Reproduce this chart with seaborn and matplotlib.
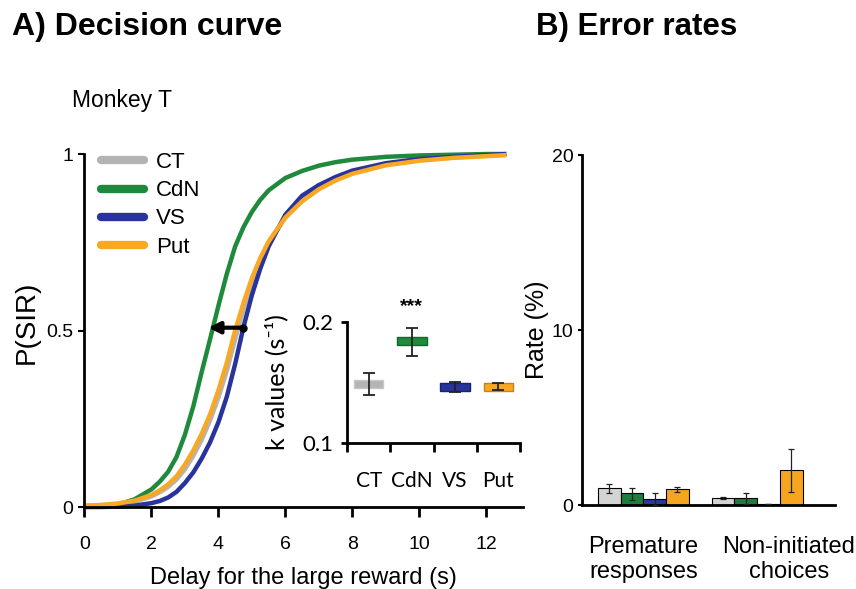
import numpy as np
import pandas as pd
import matplotlib
matplotlib.use("Agg")
import matplotlib.pyplot as plt
from matplotlib.lines import Line2D
import seaborn as sns

# ---- A) decision curves: P(SIR) against delay
delay = [0, 0.5, 1, 1.5, 2, 2.25, 2.5, 2.75, 3, 3.25, 3.5, 3.75, 4, 4.25,
         4.5, 4.75, 5, 5.25, 5.5, 6, 6.5, 7, 7.5, 8, 9, 10, 11, 12, 12.6]
p_ct = [0.003, 0.005, 0.008, 0.015, 0.03, 0.042, 0.057, 0.078, 0.107, 0.145,
        0.19, 0.245, 0.31, 0.385, 0.475, 0.56, 0.635, 0.70, 0.75, 0.82,
        0.868, 0.903, 0.928, 0.947, 0.97, 0.983, 0.99, 0.995, 0.998]
p_cdn = [0.0, 0.002, 0.007, 0.022, 0.05, 0.072, 0.10, 0.142, 0.205, 0.285,
         0.382, 0.475, 0.57, 0.66, 0.738, 0.793, 0.836, 0.87, 0.897, 0.932,
         0.952, 0.967, 0.977, 0.984, 0.992, 0.996, 0.998, 1.0, 1.0]
p_vs = [0.0, 0.0, 0.001, 0.004, 0.011, 0.017, 0.027, 0.043, 0.068, 0.098,
        0.137, 0.183, 0.24, 0.312, 0.405, 0.51, 0.60, 0.675, 0.738, 0.828,
        0.882, 0.912, 0.935, 0.953, 0.974, 0.986, 0.992, 0.997, 1.0]
p_put = [0.004, 0.006, 0.01, 0.018, 0.034, 0.047, 0.064, 0.087, 0.12, 0.16,
         0.207, 0.262, 0.33, 0.408, 0.50, 0.578, 0.648, 0.705, 0.752, 0.82,
         0.866, 0.90, 0.925, 0.944, 0.968, 0.981, 0.989, 0.994, 0.997]

groups = ["CT", "CdN", "VS", "Put"]
line_colors = {"CT": "#b4b4b4", "CdN": "#1f8a3c", "VS": "#28339b", "Put": "#f8a823"}
edge_colors = ["#c8c8c8", "#16662c", "#1b2370", "#c9821a"]

# inset: k values (s-1) with error bars
k_vals = [0.149, 0.184, 0.1465, 0.1463]
k_lo = [0.140, 0.172, 0.1424, 0.1436]
k_hi = [0.158, 0.195, 0.1504, 0.1493]

# arrow: shift of the CdN curve at P = 0.5
shift_from = 4.74
shift_to = 3.70
shift_p = 0.508

# ---- B) error rates (%)
error_types = ["Premature\nresponses", "Non-initiated\nchoices"]
premature = [0.99, 0.67, 0.36, 0.90]
premature_lo = [0.70, 0.29, 0.02, 0.72]
premature_hi = [1.20, 0.99, 0.70, 1.05]
noninit = [0.40, 0.38, 0.05, 2.0]
noninit_lo = [0.35, 0.05, 0.05, 0.76]
noninit_hi = [0.46, 0.70, 0.05, 3.2]
bar_colors = {"CT": "#d4d4d4", "CdN": "#1e7d3c", "VS": "#2b3a96", "Put": "#f6a61e"}

sns.set_style("ticks")
plt.rcParams["font.family"] = ["Liberation Sans", "DejaVu Sans"]
plt.rcParams.update({"axes.edgecolor": "black", "text.color": "black",
                     "axes.labelcolor": "black", "xtick.color": "black",
                     "ytick.color": "black"})

fig = plt.figure(figsize=(8.56, 5.89), dpi=100)
axA = fig.add_axes([0.0987, 0.1392, 0.5123, 0.5993])
ins = fig.add_axes([0.4054, 0.2474, 0.2021, 0.2065])
axB = fig.add_axes([0.6796, 0.1426, 0.2959, 0.5942])

# curves
curves = pd.concat([
    pd.DataFrame({"delay": delay, "p": p, "group": g})
    for g, p in zip(groups, [p_ct, p_cdn, p_vs, p_put])
])
sns.lineplot(data=curves, x="delay", y="p", hue="group", hue_order=groups,
             palette=line_colors, linewidth=3.2, legend=False, ax=axA)
for ln in axA.lines:
    ln.set_clip_on(False)
    ln.set_solid_capstyle("butt")

axA.annotate("", xy=(shift_to, shift_p), xytext=(shift_from, shift_p),
             arrowprops=dict(arrowstyle="-|>", lw=3, color="black",
                             mutation_scale=17, shrinkA=0, shrinkB=0))
axA.plot([shift_from], [shift_p], "o", color="black", ms=5)

handles = [Line2D([], [], color=line_colors[g], lw=6) for g in groups]
axA.legend(handles, groups, loc="upper left", bbox_to_anchor=(0.037, 1.005),
           frameon=False, fontsize=16, handlelength=1.95, handletextpad=0.55,
           labelspacing=0.32, borderpad=0, borderaxespad=0)

axA.set_xlim(0, 13.1)
axA.set_ylim(0, 1)
axA.set_xticks(range(0, 13, 2))
axA.set_yticks([0, 0.5, 1])
axA.set_yticklabels(["0", "0.5", "1"])
axA.tick_params(axis="x", length=7, width=2, pad=14, labelsize=14)
axA.tick_params(axis="y", length=4, width=1.5, pad=4, labelsize=14)
axA.set_xlabel("Delay for the large reward (s)", fontsize=17, labelpad=10)
axA.set_ylabel("P(SIR)", fontsize=20)
axA.yaxis.set_label_coords(-0.101, 0.524)
for s in axA.spines.values():
    s.set_linewidth(2)
sns.despine(ax=axA)

# inset with k values
ins.patch.set_alpha(0)
box = [(-1, -0.26), (1, -0.26), (1, 0.26), (-1, 0.26), (-1, -0.26)]
sns.scatterplot(x=groups, y=k_vals, hue=groups, palette=line_colors, marker=box,
                s=450, edgecolor=edge_colors, linewidth=1, legend=False, ax=ins)
ins.errorbar(groups, k_vals,
             yerr=[np.subtract(k_vals, k_lo), np.subtract(k_hi, k_vals)],
             fmt="none", ecolor="#222222", elinewidth=1.3, capsize=4.5,
             capthick=1.3, zorder=4)
ins.text(1, 0.2125, "***", ha="center", va="center", fontsize=14, fontweight="bold")
ins.set_xlim(-0.5, 3.5)
ins.set_ylim(0.1, 0.2)
ins.set_yticks([0.1, 0.2])
ins.set_yticklabels(["0.1", "0.2"])
ins.set_xticks([-0.5, 0.5, 1.5, 2.5, 3.5], minor=True)
ins.tick_params(axis="x", which="major", length=0, pad=20, labelsize=15,
                labelfontfamily="Lato")
ins.tick_params(axis="x", which="minor", length=6.5, width=2)
ins.tick_params(axis="y", length=4, width=2, pad=6, labelsize=16,
                labelfontfamily="Lato")
ins.set_ylabel("k values (s⁻¹)", fontsize=18, family=["Lato", "DejaVu Sans"],
               labelpad=10)
for s in ins.spines.values():
    s.set_linewidth(2)
sns.despine(ax=ins)

# bars for error rates
rates = pd.DataFrame({
    "type": np.repeat(error_types, 4),
    "group": groups * 2,
    "rate": premature + noninit,
})
sns.barplot(data=rates, x="type", y="rate", hue="group", hue_order=groups,
            palette=bar_colors, saturation=1, edgecolor="black", linewidth=0.8,
            errorbar=None, width=0.8, legend=False, ax=axB)
for i, g in enumerate(groups):
    xs = [b.get_x() + b.get_width() / 2 for b in axB.containers[i]]
    vals = [premature[i], noninit[i]]
    lo = [premature_lo[i], noninit_lo[i]]
    hi = [premature_hi[i], noninit_hi[i]]
    axB.errorbar(xs, vals, yerr=[np.subtract(vals, lo), np.subtract(hi, vals)],
                 fmt="none", ecolor="#222222", elinewidth=0.9, capsize=2,
                 capthick=0.9, zorder=4)
axB.set_xlim(-0.542, 1.686)
axB.set_ylim(0, 20)
axB.set_yticks([0, 10, 20])
axB.set_xticks([0, 1.28])
axB.set_xticklabels(error_types)
axB.tick_params(axis="x", length=0, pad=22, labelsize=17)
axB.tick_params(axis="y", length=3, width=1.5, pad=3, labelsize=14)
axB.set_xlabel("")
axB.set_ylabel("Rate (%)", fontsize=18, labelpad=2)
for s in axB.spines.values():
    s.set_linewidth(2)
sns.despine(ax=axB)

fig.text(12 / 856, 1 - 27 / 589, "A) Decision curve", fontsize=23,
         fontweight="bold", va="center")
fig.text(536 / 856, 1 - 27 / 589, "B) Error rates", fontsize=22.5,
         fontweight="bold", va="center")
fig.text(72 / 856, 1 - 100 / 589, "Monkey T", fontsize=16.5, va="center")

fig.savefig("out.png", dpi=100)
